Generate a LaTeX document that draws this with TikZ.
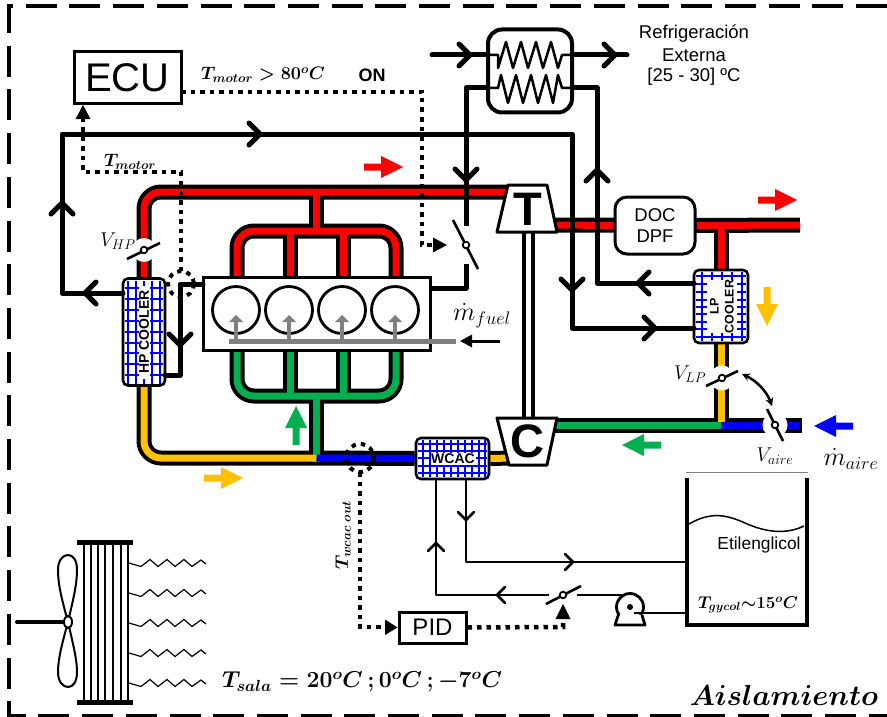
\documentclass[tikz,border=0pt]{standalone}
\usepackage{fix-cm}
\usepackage[no-math]{fontspec}
\setmainfont{Liberation Sans}
\usetikzlibrary{arrows.meta}
\pgfdeclarelayer{pipes}
\pgfsetlayers{pipes,main}
\newcommand\fsz[1]{\fontsize{#1}{\dimexpr#1pt*6/5\relax}\selectfont}
\newcommand\bmth[1]{{\boldmath$#1$}}
\definecolor{pred}{RGB}{255,0,0}
\definecolor{pyel}{RGB}{255,192,0}
\definecolor{pgrn}{RGB}{0,176,80}
\definecolor{pblu}{RGB}{0,0,255}
\definecolor{pgry}{RGB}{128,128,128}
\tikzset{
  heavy/.style={line width=5pt,line join=round,line cap=round},
  lightl/.style={line width=2.5pt,line join=round},
  dots/.style={line width=4.5pt,dash pattern=on 4.5pt off 5pt},
  boxn/.style={draw,fill=white,line width=3pt,inner sep=0pt},
  cooler/.style={draw,fill=white,line width=2.6pt,inner sep=0pt,rounded corners=5pt},
  grid/.style={pblu,line width=1.5pt},
}
\newcommand\chv[4][11]{\draw[line width=5pt,line cap=round,line join=miter,shift={(#2,#3)},rotate=#4] (-#1,#1)--(0,0)--(-#1,-#1);}
\newcommand\chs[3]{\draw[line width=2.5pt,line cap=round,line join=miter,shift={(#1,#2)},rotate=#3] (-8,8)--(0,0)--(-8,-8);}
\newcommand\blk[4]{\fill[#4,shift={(#1,#2)},rotate=#3] (0,0)--(-22,11)--(-22,3.5)--(-39,3.5)--(-39,-3.5)--(-22,-3.5)--(-22,-11)--cycle;}
\begin{document}
\begin{tikzpicture}[x=1pt,y=-1pt]
\useasboundingbox (0,0) rectangle (887,717);
% frame
\draw[line width=3.5pt,dash pattern=on 31pt off 12.7pt] (887,6)--(9,6)--(9,715.5)--(887,715.5);

% main nodes
\node[boxn,minimum width=107pt,minimum height=52pt] (ecu) at (127.5,78) {\fsz{40}ECU};
\node[boxn,line width=3pt,minimum width=227pt,minimum height=73pt] (block) at (316.5,313.5) {};
\node[cooler,minimum width=42pt,minimum height=107pt] (hpc) at (144,332) {};
\node[cooler,minimum width=54pt,minimum height=73pt] (lpc) at (721,306.5) {};
\node[cooler,minimum width=73pt,minimum height=41pt] (wcac) at (452.5,458.5) {};
\node[draw,fill=white,line width=3pt,rounded corners=12pt,inner sep=0pt,minimum width=80pt,minimum height=57pt,align=center] (doc) at (655,225.5) {\fsz{18.5}DOC\\[7pt]\fsz{18.5}DPF};
\node[draw,fill=white,line width=4pt,rounded corners=14pt,inner sep=0pt,minimum width=84pt,minimum height=83pt] (hx) at (530,71) {};
\node[boxn,minimum width=67pt,minimum height=31pt] (pid) at (432.5,627.5) {\fsz{24}PID};
\coordinate (tW) at (510,192); \coordinate (tE) at (552,225);
\coordinate (tS) at (528.5,232); \coordinate (cN) at (528.5,418);
\coordinate (cE) at (552,425); \coordinate (cW) at (512,458);

% junction coordinates
\coordinate (hpT) at (hpc.north); \coordinate (hpB) at (hpc.south);
\coordinate (lpT) at (lpc.north); \coordinate (lpB) at (lpc.south);
\coordinate (stubT) at (316.5,192); \coordinate (stubB) at (316.5,458);
\coordinate (mT) at (316.5,231); \coordinate (mB) at (316.5,396);
\coordinate (lpJ) at (721,425); \coordinate (lpX) at (721,225);
\coordinate (airEnd) at (802,425); \coordinate (exEnd) at (800,225);

\begin{pgfonlayer}{pipes}
\draw[line width=15pt,rounded corners=17pt] (hpT)--(144,192)--(tW);
\draw[line width=15pt] (stubT)--(mT);
\draw[line width=15pt,rounded corners=17pt] (237,277)--(237,231)--(396,231)--(396,277);
\draw[line width=15pt] (290,231)--(290,277) (343,231)--(343,277);
\draw[line width=15pt,rounded corners=17pt] (237,350)--(237,396)--(396,396)--(396,350);
\draw[line width=15pt] (290,396)--(290,350) (343,396)--(343,350);
\draw[line width=15pt] (mB)--(stubB);
\draw[line width=15pt,rounded corners=17pt] (hpB)--(144,458)--(stubB);
\draw[line width=15pt] (stubB)--(wcac.west) (wcac.east)--(cW);
\draw[line width=15pt] (tE)--(doc.east) (doc.east)--(exEnd);
\draw[line width=15pt] (lpX)--(lpT) (lpB)--(lpJ);
\draw[line width=15pt] (cE)--(airEnd);
\draw[pred,line width=7pt,rounded corners=17pt] (hpT)--(144,192)--(tW);
\draw[pred,line width=7pt] (stubT)--(mT);
\draw[pred,line width=7pt,rounded corners=17pt] (237,277)--(237,231)--(396,231)--(396,277);
\draw[pred,line width=7pt] (290,231)--(290,277) (343,231)--(343,277);
\draw[pgrn,line width=7pt,rounded corners=17pt] (237,350)--(237,396)--(396,396)--(396,350);
\draw[pgrn,line width=7pt] (290,396)--(290,350) (343,396)--(343,350);
\draw[pgrn,line width=7pt] (mB)--(316.5,461.5);
\draw[pyel,line width=7pt,rounded corners=17pt] (hpB)--(144,458)--(stubB);
\draw[pblu,line width=7pt] (316.5,458)--(wcac.west);
\draw[pyel,line width=7pt] (wcac.east)--(cW);
\draw[pred,line width=7pt] (tE)--(doc.west) (doc.east)--(exEnd);
\draw[pred,line width=7pt] (lpX)--(lpT);
\draw[pgrn,line width=7pt] (cE)--(lpJ);
\draw[pblu,line width=7pt] (lpJ)--(799,425);
\draw[pyel,line width=7pt] (lpB)--(721,421.5);
% shaft
\draw[line width=13pt] (tS)--(cN);
\draw[white,line width=5pt] (tS)--(cN);
% turbine and compressor
\draw[fill=white,line width=3pt,line join=round] (508,185)--(547,185)--(557,232)--(497,232)--cycle;
\draw[fill=white,line width=3pt,line join=round] (497,418)--(557,418)--(547,465)--(509,465)--cycle;
\end{pgfonlayer}
\node[inner sep=0pt] (tlet) at (527.5,209) {\fsz{47}\bfseries T};
\node[inner sep=0pt] (clet) at (527.5,441.5) {\fsz{47}\bfseries C};

% HP cooler grid
\foreach \xx in {128,136,152,160} \draw[grid] (\xx,281)--(\xx,384);
\draw[grid] (144,281)--(144,286) (144,379)--(144,384);
\foreach \yy in {288,299,310,321,332,343,353,364,375}
  \draw[grid] (125,\yy)--(139,\yy) (150,\yy)--(163,\yy);
\node[rotate=90,inner sep=0pt] (hplbl) at (144,332) {\fsz{14}\bfseries HP COOLER};

% LP cooler grid
\foreach \xx in {702,742} \draw[grid] (\xx,272)--(\xx,341);
\foreach \xx in {712,722,732} \draw[grid] (\xx,272)--(\xx,280) (\xx,333)--(\xx,341);
\foreach \yy in {276,337} \draw[grid] (696,\yy)--(746,\yy);
\foreach \yy in {284,292,300,307,314,322,329}
  \draw[grid] (696,\yy)--(707,\yy) (737,\yy)--(746,\yy);
\node[rotate=90,inner sep=0pt,align=center] (lplbl) at (722,306.5) {\fsz{12.5}\bfseries LP\\[3pt]\fsz{12.5}\bfseries COOLER};

% WCAC grid
\foreach \xx in {423,430,437,444,451,458,465,472,479,485} \draw[grid] (\xx,440)--(\xx,477);
\foreach \yy in {444,451,466,473} \draw[grid] (418,\yy)--(487,\yy);
\draw[grid] (418,458)--(431,458) (476,458)--(487,458);
\fill[white] (431,452.5) rectangle (476,464.5);
\node[inner sep=0pt] (wclbl) at (453,458.5) {\fsz{14}\bfseries WCAC};

% cylinders
\foreach \xx in {236,289,342,395}{
  \draw[line width=2.8pt] (\xx,310) circle[radius=23.5];
  \draw[pgry,line width=4.5pt] (\xx,341)--(\xx,322);
  \fill[pgry] (\xx,315)--(\xx+7,322)--(\xx-7,322)--cycle;
}
\draw[pgry,line width=5pt] (229,341)--(456,341);

% HX coils
\coordinate (hxLi) at (488,55); \coordinate (hxRi) at (572,55);
\coordinate (hxLo) at (488,88); \coordinate (hxRo) at (572,88);
\draw[line width=2.5pt,line join=round] (hxLi)--(498,55)--(498,68)--(506,42)--(513,68)--(521,42)--(528,68)--(536,42)--(543,68)--(551,42)--(558,68)--(562,55)--(hxRi);
\draw[line width=2.5pt,line join=round] (hxLo)--(498,88)--(501,75)--(508,103)--(516,75)--(523,103)--(531,75)--(538,103)--(546,75)--(553,103)--(558,75)--(562,88)--(hxRo);

% heavy black circuits
\coordinate (inA) at (432,55); \coordinate (outA) at (627,55);
\coordinate (swT) at (466,226); \coordinate (swB) at (466,264);
\coordinate (bE) at (430,288);
\coordinate (hpO) at (123,293); \coordinate (lpI) at (694,328); \coordinate (lpO) at (694,283);
\coordinate (bW) at (203,284); \coordinate (hpI) at (165,375);
\draw[heavy] (inA)--(hxLi); \chv{470}{55}{0}
\draw[heavy] (hxRi)--(outA); \chv{615}{55}{0}
\draw[heavy,line cap=butt] (hxLo)--(466,88)--(swT); \chv{466}{180}{-90}
\draw[heavy,line cap=butt] (swB)--(466,288)--(bE);
\draw[heavy] (hxRo)--(597,88)--(597,283)--(lpO); \chv{597}{170}{90} \chv{638}{283}{180}
\draw[heavy] (hpO)--(62,293)--(62,134)--(572,134)--(572,328)--(lpI);
\chv{85}{293}{180} \chv{62}{203}{90} \chv{260}{134}{0} \chv{572}{290}{-90} \chv{655}{328}{0}
\draw[heavy] (bW)--(180,284)--(180,375)--(hpI); \chv{180}{345}{-90}

% valves
\coordinate (vhp) at (144,250); \coordinate (vlp) at (722,378); \coordinate (vai) at (775,425); \coordinate (vex) at (466,245); \coordinate (vgl) at (563,595);
\fill[white] (vhp) circle[radius=12]; \fill[white] (vlp) circle[radius=12.5]; \fill[white] (vai) circle[radius=12.5];
\draw[line width=2.6pt] (127,259)--(160,243);
\draw[line width=2.6pt] (706,386)--(738,371);
\draw[line width=2.6pt] (767,409)--(783,441);
\draw[line width=2.6pt] (453,220)--(478,269);
\draw[line width=2.6pt] (546,604)--(581,586);
\foreach \v in {vhp,vlp,vai,vex,vgl} \draw[fill=white,line width=1.8pt] (\v) circle[radius=3.3];
\draw[{Stealth[length=8pt,width=8pt]}-{Stealth[length=8pt,width=8pt]},line width=2.5pt] (742,374) .. controls (757,381) and (767,392) .. (772,406);

% dotted signals
\coordinate (sMot) at (181,284); \coordinate (sWc) at (360,458);
\draw[dots,line width=4pt] (sMot) circle[radius=13];
\draw[dots,line width=4pt] (sWc) circle[radius=14];
\coordinate (eE) at (181,92); \coordinate (eS) at (83,105);
\draw[dots] (eE)--(422,92)--(422,245)--(434,245);
\fill (447,245)--(433,237.5)--(433,252.5)--cycle;
\draw[dots] (181,271)--(181,172)--(83,172)--(83,118);
\fill (eS)--(75.5,119)--(90.5,119)--cycle;
\draw[dots] (360,472)--(360,627)--(386,627);
\fill (pid.west)--(385,619.5)--(385,635)--cycle;
\draw[dots] (pid.east)--(563,627)--(563,620);
\fill (563,604)--(555.5,619)--(570.5,619)--cycle;

% mfuel arrow
\draw[line width=3pt,-{Triangle[length=12pt,width=12pt]}] (500,341)--(460,341);

% glycol circuit
\coordinate (wcO) at (466,479); \coordinate (wcI) at (436,479);
\coordinate (tkA) at (687,562); \coordinate (tkB) at (687,613);
\draw[lightl] (wcO)--(466,562)--(tkA); \chs{466}{520}{-90} \chs{573}{562}{0}
\draw[lightl] (wcI)--(436,595)--(549,595); \chs{436}{543}{90} \chs{497}{595}{180}
\draw[lightl] (577,595)--(630,595);
% pump
\node[draw,fill=white,circle,line width=2.8pt,minimum size=27pt,inner sep=0pt] (pump) at (630,607) {};
\fill (pump) circle[radius=3];
\draw[line width=2.8pt,line join=round,fill=white] (619,613)--(615,625)--(645,625)--(642,615);
\draw[lightl] (634,613)--(tkB);
% tank
\draw[line width=4pt,line join=miter] (687,478)--(687,625)--(807,625)--(807,478);
\draw[pgry,line width=.6pt] (686,472.5)--(808,472.5);
\draw[line width=1.5pt] (689,524) .. controls (710,512) and (725,514) .. (745,523) .. controls (765,532) and (785,535) .. (804,526);

% fan
\draw[line width=4pt,line cap=round] (17,622)--(66,622);
\draw[line width=2pt] (68,622) .. controls (62,600) and (58,585) .. (58,570) .. controls (58,560) and (63,555) .. (68,555) .. controls (73,555) and (77,560) .. (77,570) .. controls (77,585) and (73,600) .. (68,622);
\draw[line width=2pt] (68,622) .. controls (62,644) and (58,659) .. (58,672) .. controls (58,682) and (63,687) .. (68,687) .. controls (73,687) and (77,682) .. (77,672) .. controls (77,659) and (73,644) .. (68,622);
\draw[fill=white,line width=2pt] (68,622) ellipse[x radius=4,y radius=6];
% radiator
\draw[line width=5pt] (77,542.5)--(133,542.5) (77,702.5)--(133,702.5);
\foreach \xx in {84,91,98,105,113,121,128} \draw[line width=2pt] (\xx,544)--(\xx,700);
\foreach \yy in {563,593,623,653,683}
  \draw[line width=1.2pt] (129,\yy)--(141,\yy+3.5)--(150,\yy-3.5)--(158,\yy+3.5)--(167,\yy-3.5)--(175,\yy+3.5)--(184,\yy-3.5)--(192,\yy+3.5)--(201,\yy-3)--(206,\yy+1);

% block arrows
\blk{403}{167}{0}{pred}
\blk{797}{200}{0}{pred}
\blk{767}{326}{-90}{pyel}
\blk{296}{406}{90}{pgrn}
\blk{243}{478}{0}{pyel}
\blk{622}{445}{180}{pgrn}
\blk{814}{426}{180}{pblu}

% text
\node[inner sep=0pt] (tm80) at (263,75) {\fsz{18}\bmth{T_{motor}>80^{o}C}};
\node[inner sep=0pt] (on) at (372,75) {\fsz{18}\bfseries ON};
\node[inner sep=0pt] (tm) at (130,162) {\fsz{18}\bmth{T_{motor}}};
\node[inner sep=0pt] (vhpl) at (118,241) {\fsz{20}$V_{HP}$};
\node[inner sep=0pt] (vlpl) at (690,374) {\fsz{20}$V_{LP}$};
\node[inner sep=0pt] (vail) at (775,456) {\fsz{20}$V_{aire}$};
\node[inner sep=0pt] (mfl) at (482,316) {\fsz{26}$\dot{m}_{fuel}$};
\node[inner sep=0pt] (mal) at (851,459) {\fsz{26}$\dot{m}_{aire}$};
\node[inner sep=0pt,align=center] (refr) at (694,55) {\fsz{18.5}Refrigeración\\[5.5pt]\fsz{18.5}Externa\\[5.5pt]\fsz{18.5}[25 - 30] ºC};
\node[inner sep=0pt] (eti) at (759,545) {\fsz{17.4}Etilenglicol};
\node[inner sep=0pt] (tgy) at (748,605) {\fsz{17}\bmth{T_{gycol}{\sim}15^{o}C}};
\node[inner sep=0pt,rotate=90] (twc) at (343,535) {\fsz{18}\bmth{T_{wcac\;out}}};
\node[inner sep=0pt] (tsa) at (362,682) {\fsz{23}\bmth{T_{sala}=20^{o}C\,;0^{o}C\,;{-}7^{o}C}};
\node[inner sep=0pt] (ais) at (784,695) {\fsz{29}\bmth{Aislamiento}};
\end{tikzpicture}
\end{document}
